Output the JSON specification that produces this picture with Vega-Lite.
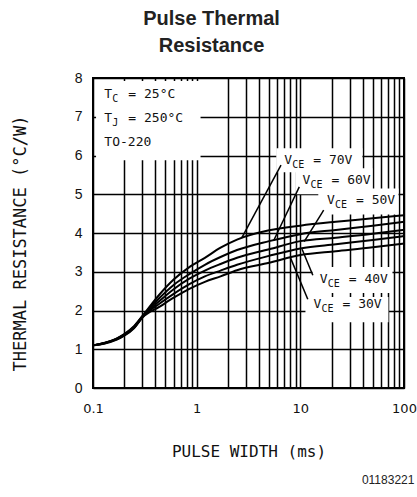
{
  "$schema": "https://vega.github.io/schema/vega-lite/v6.json",
  "width": 311,
  "height": 310,
  "autosize": {"type": "none"},
  "padding": {"left": 93, "top": 78, "right": 13, "bottom": 109},
  "background": "white",
  "title": {
    "text": ["Pulse Thermal", "Resistance"],
    "font": "Liberation Sans",
    "fontWeight": "bold",
    "fontSize": 20,
    "lineHeight": 27,
    "color": "#222222",
    "anchor": "middle",
    "dx": -37,
    "offset": 15
  },
  "config": {
    "view": {"stroke": "black", "strokeWidth": 2},
    "axis": {
      "grid": true,
      "gridColor": "black",
      "gridOpacity": 1,
      "gridWidth": 1.5,
      "domain": false,
      "ticks": false,
      "labelOverlap": false,
      "labelColor": "#111111",
      "titleColor": "#111111",
      "titleFontWeight": "normal"
    }
  },
  "datasets": {
    "curves": [
      {"vce": "70V", "ms": 0.1, "r": 1.1}, {"vce": "70V", "ms": 0.13, "r": 1.17}, {"vce": "70V", "ms": 0.17, "r": 1.28}, {"vce": "70V", "ms": 0.2, "r": 1.39}, {"vce": "70V", "ms": 0.25, "r": 1.6}, {"vce": "70V", "ms": 0.3, "r": 1.86}, {"vce": "70V", "ms": 0.44, "r": 2.42}, {"vce": "70V", "ms": 0.6, "r": 2.8}, {"vce": "70V", "ms": 0.85, "r": 3.12}, {"vce": "70V", "ms": 1.2, "r": 3.36}, {"vce": "70V", "ms": 1.7, "r": 3.62}, {"vce": "70V", "ms": 2.45, "r": 3.83}, {"vce": "70V", "ms": 5, "r": 4.07}, {"vce": "70V", "ms": 10, "r": 4.19}, {"vce": "70V", "ms": 22, "r": 4.29}, {"vce": "70V", "ms": 50, "r": 4.38}, {"vce": "70V", "ms": 100, "r": 4.46},
      {"vce": "60V", "ms": 0.1, "r": 1.1}, {"vce": "60V", "ms": 0.13, "r": 1.165}, {"vce": "60V", "ms": 0.17, "r": 1.275}, {"vce": "60V", "ms": 0.2, "r": 1.38}, {"vce": "60V", "ms": 0.25, "r": 1.59}, {"vce": "60V", "ms": 0.3, "r": 1.85}, {"vce": "60V", "ms": 0.44, "r": 2.33}, {"vce": "60V", "ms": 0.6, "r": 2.66}, {"vce": "60V", "ms": 0.85, "r": 2.94}, {"vce": "60V", "ms": 1.2, "r": 3.18}, {"vce": "60V", "ms": 1.7, "r": 3.38}, {"vce": "60V", "ms": 2.45, "r": 3.56}, {"vce": "60V", "ms": 5, "r": 3.79}, {"vce": "60V", "ms": 10, "r": 3.97}, {"vce": "60V", "ms": 22, "r": 4.08}, {"vce": "60V", "ms": 50, "r": 4.19}, {"vce": "60V", "ms": 100, "r": 4.29},
      {"vce": "50V", "ms": 0.1, "r": 1.1}, {"vce": "50V", "ms": 0.13, "r": 1.16}, {"vce": "50V", "ms": 0.17, "r": 1.27}, {"vce": "50V", "ms": 0.2, "r": 1.37}, {"vce": "50V", "ms": 0.25, "r": 1.57}, {"vce": "50V", "ms": 0.3, "r": 1.84}, {"vce": "50V", "ms": 0.44, "r": 2.25}, {"vce": "50V", "ms": 0.6, "r": 2.55}, {"vce": "50V", "ms": 0.85, "r": 2.82}, {"vce": "50V", "ms": 1.2, "r": 3.03}, {"vce": "50V", "ms": 1.7, "r": 3.2}, {"vce": "50V", "ms": 2.45, "r": 3.36}, {"vce": "50V", "ms": 5, "r": 3.58}, {"vce": "50V", "ms": 10, "r": 3.79}, {"vce": "50V", "ms": 22, "r": 3.88}, {"vce": "50V", "ms": 50, "r": 3.98}, {"vce": "50V", "ms": 100, "r": 4.08},
      {"vce": "40V", "ms": 0.1, "r": 1.1}, {"vce": "40V", "ms": 0.13, "r": 1.155}, {"vce": "40V", "ms": 0.17, "r": 1.26}, {"vce": "40V", "ms": 0.2, "r": 1.36}, {"vce": "40V", "ms": 0.25, "r": 1.56}, {"vce": "40V", "ms": 0.3, "r": 1.83}, {"vce": "40V", "ms": 0.44, "r": 2.18}, {"vce": "40V", "ms": 0.6, "r": 2.43}, {"vce": "40V", "ms": 0.85, "r": 2.68}, {"vce": "40V", "ms": 1.2, "r": 2.88}, {"vce": "40V", "ms": 1.7, "r": 3.03}, {"vce": "40V", "ms": 2.45, "r": 3.18}, {"vce": "40V", "ms": 5, "r": 3.41}, {"vce": "40V", "ms": 10, "r": 3.6}, {"vce": "40V", "ms": 22, "r": 3.71}, {"vce": "40V", "ms": 50, "r": 3.82}, {"vce": "40V", "ms": 100, "r": 3.92},
      {"vce": "30V", "ms": 0.1, "r": 1.1}, {"vce": "30V", "ms": 0.13, "r": 1.15}, {"vce": "30V", "ms": 0.17, "r": 1.25}, {"vce": "30V", "ms": 0.2, "r": 1.35}, {"vce": "30V", "ms": 0.25, "r": 1.55}, {"vce": "30V", "ms": 0.3, "r": 1.82}, {"vce": "30V", "ms": 0.44, "r": 2.1}, {"vce": "30V", "ms": 0.6, "r": 2.33}, {"vce": "30V", "ms": 0.85, "r": 2.56}, {"vce": "30V", "ms": 1.2, "r": 2.74}, {"vce": "30V", "ms": 1.7, "r": 2.88}, {"vce": "30V", "ms": 2.45, "r": 3.04}, {"vce": "30V", "ms": 5, "r": 3.23}, {"vce": "30V", "ms": 10, "r": 3.43}, {"vce": "30V", "ms": 22, "r": 3.53}, {"vce": "30V", "ms": 50, "r": 3.63}, {"vce": "30V", "ms": 100, "r": 3.73}
    ],
    "boxes": [
      {"id": "t", "x0": 0.107, "x1": 1.09, "y0": 5.88, "y1": 7.92},
      {"id": "70V", "x0": 5.86, "x1": 39.7, "y0": 5.57, "y1": 6.19},
      {"id": "60V", "x0": 8.95, "x1": 49.6, "y0": 5.0, "y1": 5.67},
      {"id": "50V", "x0": 14.9, "x1": 88.5, "y0": 4.48, "y1": 5.15},
      {"id": "40V", "x0": 13.1, "x1": 77.4, "y0": 2.45, "y1": 3.12},
      {"id": "30V", "x0": 11.2, "x1": 70.8, "y0": 1.7, "y1": 2.35}
    ],
    "leaders": [
      {"vce": "70V", "x0": 6.51, "y0": 5.75, "x1": 2.73, "y1": 3.88},
      {"vce": "60V", "x0": 9.77, "y0": 5.19, "x1": 5.52, "y1": 3.8},
      {"vce": "50V", "x0": 16.8, "y0": 4.59, "x1": 10.9, "y1": 3.78},
      {"vce": "40V", "x0": 13.2, "y0": 2.91, "x1": 10.4, "y1": 3.58},
      {"vce": "30V", "x0": 11.8, "y0": 2.29, "x1": 8.0, "y1": 3.37}
    ],
    "vlabels": [
      {"main": "V", "sub": "CE", "rest": "= 70V", "lx": 7.0, "ly": 5.88},
      {"main": "V", "sub": "CE", "rest": "= 60V", "lx": 10.5, "ly": 5.37},
      {"main": "V", "sub": "CE", "rest": "= 50V", "lx": 18.1, "ly": 4.85},
      {"main": "V", "sub": "CE", "rest": "= 40V", "lx": 15.4, "ly": 2.81},
      {"main": "V", "sub": "CE", "rest": "= 30V", "lx": 13.4, "ly": 2.16}
    ],
    "tlabels": [
      {"main": "T", "sub": "C", "rest": "= 25°C", "lx": 0.1286, "ly": 7.6},
      {"main": "T", "sub": "J", "rest": "= 250°C", "lx": 0.1286, "ly": 6.98}
    ],
    "plain": [
      {"txt": "TO-220", "lx": 0.1286, "ly": 6.35}
    ],
    "footer": [
      {"txt": "01183221", "lx": 126, "ly": -2.37}
    ]
  },
  "layer": [
    {
      "data": {"name": "boxes"},
      "mark": {"type": "rect", "fill": "white", "strokeWidth": 0},
      "encoding": {
        "x": {
          "field": "x0", "type": "quantitative",
          "scale": {"type": "log", "domain": [0.1, 100], "nice": false},
          "title": "PULSE WIDTH (ms)",
          "axis": {
            "values": [0.1, 0.2, 0.3, 0.4, 0.5, 0.6, 0.7, 0.8, 0.9, 1, 2, 3, 4, 5, 6, 7, 8, 9, 10, 20, 30, 40, 50, 60, 70, 80, 90, 100],
            "format": "~g",
            "labelExpr": "indexof(['0.1','1','10','100'], datum.label) >= 0 ? datum.label : ''",
            "labelFont": "DejaVu Sans",
            "labelFontSize": 13,
            "labelPadding": 14,
            "labelFlush": false,
            "titleFont": "DejaVu Sans Mono",
            "titleFontSize": 16,
            "titlePadding": 28
          }
        },
        "x2": {"field": "x1"},
        "y": {
          "field": "y0", "type": "quantitative",
          "scale": {"domain": [0, 8], "nice": false},
          "title": "THERMAL RESISTANCE (°C/W)",
          "axis": {
            "values": [0, 1, 2, 3, 4, 5, 6, 7, 8],
            "tickCount": 9,
            "labelFont": "Liberation Sans",
            "labelFontSize": 14,
            "labelPadding": 11,
            "titleFont": "DejaVu Sans Mono",
            "titleFontSize": 17,
            "titlePadding": 45,
            "titleY": 165
          }
        },
        "y2": {"field": "y1"}
      }
    },
    {
      "data": {"name": "curves"},
      "mark": {"type": "line", "color": "black", "strokeWidth": 2, "interpolate": "monotone"},
      "encoding": {
        "x": {"field": "ms", "type": "quantitative", "title": "PULSE WIDTH (ms)"},
        "y": {"field": "r", "type": "quantitative", "title": "THERMAL RESISTANCE (°C/W)"},
        "detail": {"field": "vce"}
      }
    },
    {
      "data": {"name": "leaders"},
      "mark": {"type": "rule", "color": "black", "strokeWidth": 1.5},
      "encoding": {
        "x": {"field": "x0", "type": "quantitative", "title": "PULSE WIDTH (ms)"},
        "x2": {"field": "x1"},
        "y": {"field": "y0", "type": "quantitative", "title": "THERMAL RESISTANCE (°C/W)"},
        "y2": {"field": "y1"}
      }
    },
    {
      "data": {"name": "vlabels"},
      "mark": {"type": "text", "font": "DejaVu Sans Mono", "fontSize": 13, "align": "left", "baseline": "middle", "color": "#111111"},
      "encoding": {
        "x": {"field": "lx", "type": "quantitative", "title": "PULSE WIDTH (ms)"},
        "y": {"field": "ly", "type": "quantitative", "title": "THERMAL RESISTANCE (°C/W)"},
        "text": {"field": "main"}
      }
    },
    {
      "data": {"name": "vlabels"},
      "mark": {"type": "text", "font": "DejaVu Sans Mono", "fontSize": 10, "align": "left", "baseline": "middle", "dx": 8, "dy": 5, "color": "#111111"},
      "encoding": {
        "x": {"field": "lx", "type": "quantitative", "title": "PULSE WIDTH (ms)"},
        "y": {"field": "ly", "type": "quantitative", "title": "THERMAL RESISTANCE (°C/W)"},
        "text": {"field": "sub"}
      }
    },
    {
      "data": {"name": "vlabels"},
      "mark": {"type": "text", "font": "DejaVu Sans Mono", "fontSize": 13, "align": "left", "baseline": "middle", "dx": 29, "color": "#111111"},
      "encoding": {
        "x": {"field": "lx", "type": "quantitative", "title": "PULSE WIDTH (ms)"},
        "y": {"field": "ly", "type": "quantitative", "title": "THERMAL RESISTANCE (°C/W)"},
        "text": {"field": "rest"}
      }
    },
    {
      "data": {"name": "tlabels"},
      "mark": {"type": "text", "font": "DejaVu Sans Mono", "fontSize": 13, "align": "left", "baseline": "middle", "color": "#111111"},
      "encoding": {
        "x": {"field": "lx", "type": "quantitative", "title": "PULSE WIDTH (ms)"},
        "y": {"field": "ly", "type": "quantitative", "title": "THERMAL RESISTANCE (°C/W)"},
        "text": {"field": "main"}
      }
    },
    {
      "data": {"name": "tlabels"},
      "mark": {"type": "text", "font": "DejaVu Sans Mono", "fontSize": 10, "align": "left", "baseline": "middle", "dx": 8, "dy": 5, "color": "#111111"},
      "encoding": {
        "x": {"field": "lx", "type": "quantitative", "title": "PULSE WIDTH (ms)"},
        "y": {"field": "ly", "type": "quantitative", "title": "THERMAL RESISTANCE (°C/W)"},
        "text": {"field": "sub"}
      }
    },
    {
      "data": {"name": "tlabels"},
      "mark": {"type": "text", "font": "DejaVu Sans Mono", "fontSize": 13, "align": "left", "baseline": "middle", "dx": 24, "color": "#111111"},
      "encoding": {
        "x": {"field": "lx", "type": "quantitative", "title": "PULSE WIDTH (ms)"},
        "y": {"field": "ly", "type": "quantitative", "title": "THERMAL RESISTANCE (°C/W)"},
        "text": {"field": "rest"}
      }
    },
    {
      "data": {"name": "plain"},
      "mark": {"type": "text", "font": "DejaVu Sans Mono", "fontSize": 13, "align": "left", "baseline": "middle", "color": "#111111"},
      "encoding": {
        "x": {"field": "lx", "type": "quantitative", "title": "PULSE WIDTH (ms)"},
        "y": {"field": "ly", "type": "quantitative", "title": "THERMAL RESISTANCE (°C/W)"},
        "text": {"field": "txt"}
      }
    },
    {
      "data": {"name": "footer"},
      "mark": {"type": "text", "font": "Liberation Sans", "fontSize": 12, "align": "right", "baseline": "middle", "color": "#222222"},
      "encoding": {
        "x": {"field": "lx", "type": "quantitative", "title": "PULSE WIDTH (ms)"},
        "y": {"field": "ly", "type": "quantitative", "title": "THERMAL RESISTANCE (°C/W)"},
        "text": {"field": "txt"}
      }
    }
  ]
}
